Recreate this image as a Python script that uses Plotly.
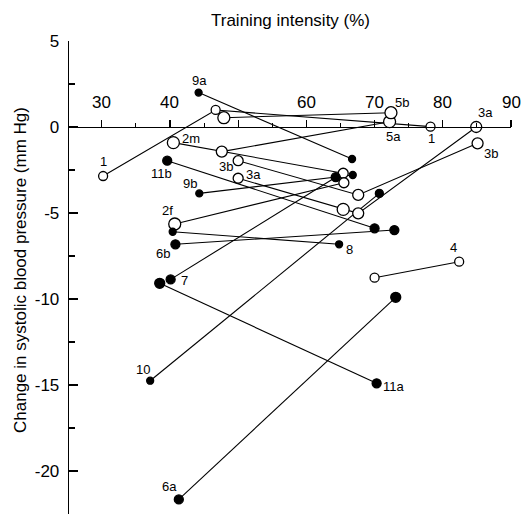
import plotly.graph_objects as go

# ---- data ----
studies = ["1", "2m", "2f", "3a", "3b", "4", "5a", "5b",
           "6a", "6b", "7", "8", "9a", "9b", "10", "11a", "11b"]
intensity = [
    [30.2, 46.7, 78.2],
    [40.5, 65.4],
    [40.7, 65.5],
    [50.0, 65.4, 67.6, 84.9],
    [50.0, 67.6, 85.1],
    [70.0, 82.4],
    [47.6, 72.2],
    [47.9, 72.4],
    [41.3, 73.1],
    [40.8, 72.9],
    [40.1, 64.3],
    [40.4, 64.8],
    [44.2, 66.7],
    [44.3, 66.8],
    [37.1, 70.7],
    [38.5, 70.3],
    [39.6, 70.0],
]
sbp_change = [
    [-2.85, 0.99, 0.02],
    [-0.91, -2.69],
    [-5.64, -3.24],
    [-2.98, -4.79, -5.02, 0.0],
    [-1.96, -3.95, -0.95],
    [-8.76, -7.83],
    [-1.43, 0.31],
    [0.54, 0.83],
    [-21.65, -9.9],
    [-6.82, -5.99],
    [-8.86, -2.92],
    [-6.09, -6.82],
    [2.0, -1.86],
    [-3.86, -2.79],
    [-14.75, -3.86],
    [-9.09, -14.9],
    [-1.96, -5.89],
]
hypertensive = [False, False, False, False, False, False, False, False,
                True, True, True, True, True, True, True, True, True]
x_ticks = [30, 40, 50, 60, 70, 80, 90]
x_tick_text = ["30", "40", "", "60", "70", "80", "90"]
y_ticks = [5, 0, -5, -10, -15, -20]
y_tick_text = ["5", "0", "-5", "-10", "-15", "-20"]

# ---- styles (marker sizes, label placement) ----
marker_sizes = [
    [9, 9, 9], [12, 10], [12, 10], [10, 12, 11, 11], [10, 11, 11], [9, 9],
    [11, 12], [12, 12], [9, 10], [9, 9], [9, 9], [7, 7], [7, 7], [7, 7],
    [7, 8], [10, 9], [9, 9],
]
label_pos = {
    "1": [(30.3, -2.02), (78.3, -0.66)],
    "2m": [(43.1, -0.66)],
    "2f": [(39.7, -4.87)],
    "3a": [(52.2, -2.79), (86.2, 0.83)],
    "3b": [(48.2, -2.31), (87.1, -1.53)],
    "4": [(81.5, -7.0)],
    "5a": [(72.7, -0.56)],
    "5b": [(74.0, 1.40)],
    "6a": [(39.9, -20.9)],
    "6b": [(39.0, -7.34)],
    "7": [(42.2, -8.9)],
    "8": [(66.3, -7.15)],
    "9a": [(44.3, 2.73)],
    "9b": [(43.0, -3.27)],
    "10": [(36.0, -14.1)],
    "11a": [(72.8, -15.1)],
    "11b": [(38.75, -2.73)],
}

FONT = "Liberation Sans, Arial, sans-serif"
INK = "#000000"
L, R, T, B = 69, 11, 41, 1
W, H = 522, 515
PW, PH = W - L - R, H - T - B
X_AXIS_PX = 127      # pixel row of the y = 0 axis line
X_LABEL_PX = 102.5   # pixel row of x tick label centres

fig = go.Figure()

# lines first
for name, xs, ys in zip(studies, intensity, sbp_change):
    fig.add_trace(go.Scatter(x=xs, y=ys, mode="lines",
                             line=dict(color=INK, width=1.1),
                             hoverinfo="skip", showlegend=False))
# markers on top
for name, xs, ys, filled, sz in zip(studies, intensity, sbp_change, hypertensive, marker_sizes):
    fig.add_trace(go.Scatter(
        x=xs, y=ys, mode="markers", name=name, showlegend=False, opacity=1,
        marker=dict(symbol="circle", size=sz, opacity=1,
                    color=INK if filled else "white",
                    line=dict(color=INK, width=1.3))))

for name in studies:
    for (lx, ly) in label_pos[name]:
        fig.add_annotation(x=lx, y=ly, xref="x", yref="y", text=name,
                           showarrow=False, font=dict(family=FONT, size=13, color=INK))

# x tick labels (drawn above the y = 0 axis line)
for tv, tt in zip(x_ticks, x_tick_text):
    if not tt:
        continue
    fig.add_annotation(x=tv, y=(H - B - X_LABEL_PX) / PH, xref="x", yref="paper",
                       text=tt, showarrow=False, yanchor="middle", xanchor="center",
                       font=dict(family=FONT, size=17, color=INK))

fig.add_annotation(x=0.5, y=(H - B - 21) / PH, xref="paper", yref="paper",
                   yanchor="middle", xanchor="center",
                   text="Training intensity (%)", showarrow=False,
                   font=dict(family=FONT, size=17, color=INK))
fig.add_annotation(x=(20 - L) / PW, y=(H - B - 270) / PH, xref="paper", yref="paper",
                   xanchor="center", yanchor="middle", showarrow=False,
                   text="Change in systolic blood pressure (mm Hg)", textangle=-90,
                   font=dict(family=FONT, size=17, color=INK))

fig.update_layout(
    width=W, height=H,
    margin=dict(l=L, r=R, t=T, b=B, autoexpand=False),
    paper_bgcolor="white", plot_bgcolor="white",
    font=dict(family=FONT, size=17, color=INK),
    hovermode=False,
    xaxis=dict(range=[25.2, 90], showgrid=False, zeroline=False, automargin=False,
               showline=True, linecolor=INK, linewidth=1.3,
               anchor="free", position=(H - B - X_AXIS_PX) / PH, side="top",
               tickmode="array", tickvals=x_ticks, showticklabels=False,
               ticks="outside", ticklen=7, tickwidth=1.3, tickcolor=INK,
               minor=dict(tickmode="array", tickvals=[35, 45, 55, 65, 75, 85],
                          ticks="outside", ticklen=4, tickwidth=1.1, tickcolor=INK)),
    yaxis=dict(range=[-22.5, 5], showgrid=False, zeroline=False, automargin=False,
               showline=True, linecolor=INK, linewidth=1.3,
               tickmode="array", tickvals=y_ticks, ticktext=y_tick_text,
               ticks="inside", ticklen=9, tickwidth=1.3, tickcolor=INK,
               ticklabelstandoff=5,
               minor=dict(tickmode="array", tickvals=[2.5, -2.5, -7.5, -12.5, -17.5, -22.5],
                          ticks="inside", ticklen=6, tickwidth=1.1, tickcolor=INK)),
)

fig.write_html(
    "out.html",
    config={"displayModeBar": False, "staticPlot": True},
    post_script="document.body.style.margin='0';document.body.style.padding='0';"
                "document.body.style.overflow='hidden';",
)
